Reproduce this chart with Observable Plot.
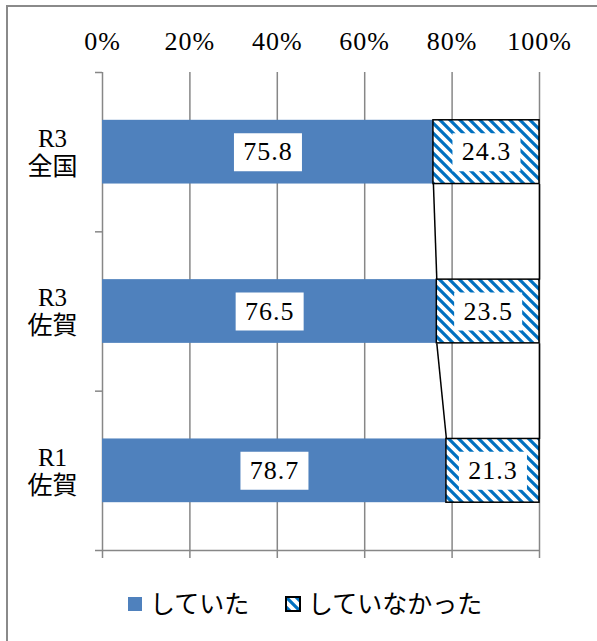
<!DOCTYPE html>
<html><head><meta charset="utf-8">
<script src="https://cdn.jsdelivr.net/npm/d3@7"></script>
<script src="https://cdn.jsdelivr.net/npm/@observablehq/plot@0.6"></script>
<style>
body{margin:0;background:#fff;}
#wrap{position:relative;width:597px;height:641px;overflow:hidden;background:#fff;}
#chart{position:absolute;left:0;top:0;}
#chart svg, #chart text{font-family:"Liberation Serif","Noto Sans CJK JP",serif !important;}
#chart .num text, #chart .num{letter-spacing:1px;}
#frame{position:absolute;left:6px;top:5px;width:700px;height:700px;border:2px solid #8a8a8a;pointer-events:none;}
.lg{position:absolute;font-family:"Noto Sans CJK JP",sans-serif;font-size:25px;line-height:25px;color:#000;white-space:nowrap;}
.sw{position:absolute;}
</style>
</head><body>
<svg width="0" height="0" style="position:absolute">
  <defs>
    <pattern id="hatch" patternUnits="userSpaceOnUse" width="10" height="10">
      <rect width="10" height="10" fill="#fff"/>
      <path d="M-2,-2L12,12M-2,8L2,12M8,-2L12,2" stroke="#0070C0" stroke-width="3.2"/>
    </pattern>
  </defs>
</svg>
<div id="wrap">
  <div id="chart"></div>
  <div id="legend"></div>
  <div id="frame"></div>
</div>
<script>
const categories = ["R3\n全国", "R3\n佐賀", "R1\n佐賀"];
const seriesNames = ["していた", "していなかった"];
const did = [75.8, 76.5, 78.7];
const didNot = [24.3, 23.5, 21.3];
const xTicks = [0, 20, 40, 60, 80, 100];

const gray = "#878787";
const blue = "#4F81BD";
const pad = 0.3; // band padding on each side of a bar (in category units)

const rows = categories.map((c, i) => {
  const share = did[i] / (did[i] + didNot[i]) * 100;
  return {cat: c, i, did: did[i], didNot: didNot[i], share};
});
const links = [];
for (let k = 0; k < rows.length - 1; k++) {
  links.push({x1: rows[k].share, y1: k + 1 - pad, x2: rows[k + 1].share, y2: k + 1 + pad});
  links.push({x1: 100, y1: k + 1 - pad, x2: 100, y2: k + 1 + pad});
}
const labels = [];
rows.forEach(r => {
  labels.push({x: r.share / 2, y: r.i + 0.5, t: r.did.toFixed(1)});
  labels.push({x: (r.share + 100) / 2, y: r.i + 0.5, t: r.didNot.toFixed(1)});
});
const boxSymbol = {draw(ctx) { ctx.rect(-34, -19, 68, 38); }};

const plot = Plot.plot({
  width: 597, height: 570,
  marginTop: 72, marginBottom: 20, marginLeft: 102, marginRight: 58,
  x: {domain: [0, 100]},
  y: {domain: [0, categories.length], reverse: true},
  style: {fontSize: "26px", color: "#000", background: "transparent"},
  marks: [
    Plot.ruleX(xTicks, {stroke: gray, strokeWidth: 1.5}),
    Plot.rectX(rows, {x1: 0, x2: "share", y1: d => d.i + pad, y2: d => d.i + 1 - pad, fill: blue}),
    Plot.rectX(rows, {x1: "share", x2: 100, y1: d => d.i + pad, y2: d => d.i + 1 - pad, fill: "url(#hatch)", stroke: "#000", strokeWidth: 1.5}),
    Plot.link(links, {x1: "x1", y1: "y1", x2: "x2", y2: "y2", stroke: "#000", strokeWidth: 1.5}),
    Plot.dot(labels, {x: "x", y: "y", symbol: boxSymbol, fill: "#fff", stroke: null}),
    Plot.text(labels, {x: "x", y: "y", text: "t", fontSize: 26, fill: "#000", className: "num"}),
    Plot.ruleY([categories.length], {stroke: gray, strokeWidth: 1.5}),
    Plot.axisX(xTicks, {anchor: "top", tickSize: 0, tickPadding: 23, tickFormat: d => d + "%", fontSize: 26, fill: "#000", className: "num"}),
    Plot.axisX(xTicks, {anchor: "bottom", tickSize: 8, tickFormat: () => "", stroke: gray, strokeWidth: 1.5, strokeOpacity: 1}),
    Plot.axisY(d3.range(categories.length + 1), {anchor: "left", tickSize: 7, tickFormat: () => "", stroke: gray, strokeWidth: 1.5, strokeOpacity: 1}),
    Plot.text(rows, {x: 0, y: d => d.i + 0.5, text: "cat", dx: -50, textAnchor: "middle", lineAnchor: "middle", lineHeight: 1.12, fontSize: 25, fill: "#000"})
  ]
});
document.getElementById("chart").appendChild(plot);

// legend
const lg = document.getElementById("legend");
const items = [
  {name: seriesNames[0], swLeft: 127, textLeft: 150, fill: blue, stroke: "none"},
  {name: seriesNames[1], swLeft: 285, textLeft: 308, fill: "url(#hatch)", stroke: "#000"}
];
items.forEach(it => {
  const s = document.createElementNS("http://www.w3.org/2000/svg", "svg");
  s.setAttribute("width", 16); s.setAttribute("height", 16);
  s.setAttribute("class", "sw");
  s.style.left = it.swLeft + "px"; s.style.top = "596px";
  const r = document.createElementNS("http://www.w3.org/2000/svg", "rect");
  r.setAttribute("x", 1); r.setAttribute("y", 1); r.setAttribute("width", 14); r.setAttribute("height", 14);
  r.setAttribute("fill", it.fill); r.setAttribute("stroke", it.stroke); r.setAttribute("stroke-width", 2);
  s.appendChild(r);
  lg.appendChild(s);
  const t = document.createElement("div");
  t.className = "lg";
  t.textContent = it.name;
  t.style.left = it.textLeft + "px"; t.style.top = "590px";
  lg.appendChild(t);
});
</script>
</body></html>
